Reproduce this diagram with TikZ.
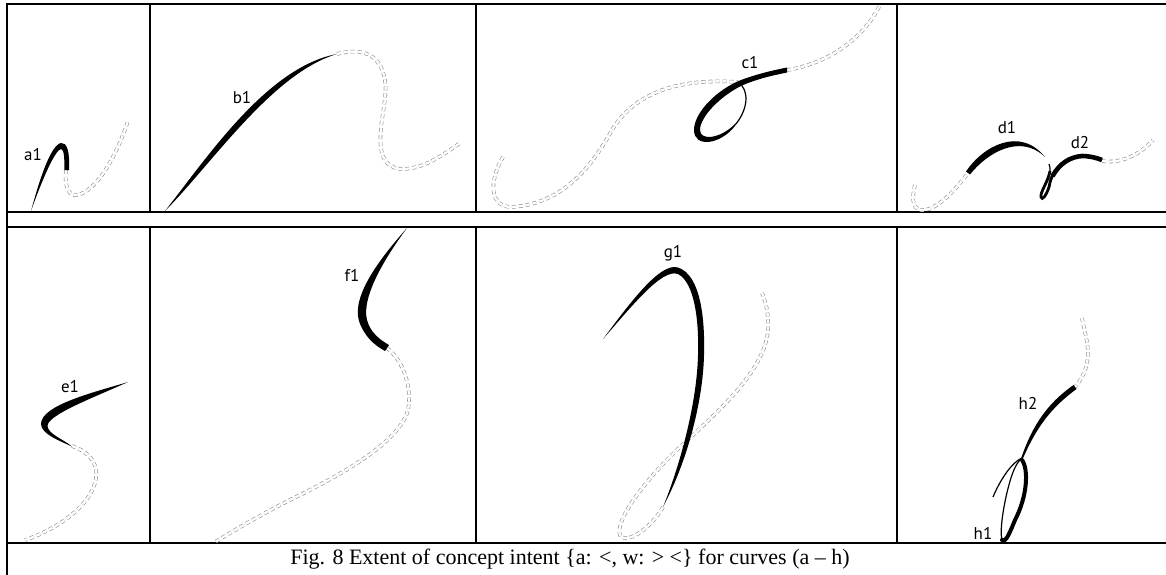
\documentclass[tikz,border=0pt]{standalone}
\usepackage{fontspec}
\setmainfont{Liberation Serif}
\newfontfamily\labelfont{PT Sans}
\begin{document}
\begin{tikzpicture}[x=0.5pt,y=-0.5pt,
  frame/.style={line width=1pt, draw=black, line cap=rect},
  ext/.style={draw=black!45, line width=0.3pt, double=white, double distance=1.2pt, dash pattern=on 2pt off 1.5pt},
  ink/.style={fill=black, draw=none},
  hair/.style={draw=black, line width=0.6pt},
  lab/.style={font=\labelfont\fontsize{8.5}{10}\selectfont, inner sep=0pt},
  captext/.style={font=\fontsize{11}{13}\selectfont, inner sep=0pt}]
\useasboundingbox (0,0) rectangle (1166,574);

% ---------- table frame ----------
\draw[frame] (7,4) -- (1166,4);
\draw[frame] (7,212) -- (1166,212);
\draw[frame] (7,227) -- (1166,227);
\draw[frame] (7,543) -- (1166,543);
\draw[frame] (7,4) -- (7,574);
\foreach \xx in {150,476,897}{
  \draw[frame] (\xx,4) -- (\xx,212);
  \draw[frame] (\xx,227) -- (\xx,543);
}

% ---------- panel a ----------
\draw[ext] (66,170) .. controls (64,188) and (70,197) .. (77,195) .. controls (95,192) and (115,160) .. (128,121);
\fill[ink] (31,211) .. controls (38,185) and (50,145) .. (61,143) .. controls (67,142) and (70,152) .. (69,170) -- (64.5,170) .. controls (64.5,158) and (64,149) .. (61,149) .. controls (55,150) and (42,180) .. (31,211) -- cycle;
\node[lab] (a1) at (33,155) {a1};

% ---------- panel b ----------
\draw[ext] (337,54) .. controls (360,48) and (380,52) .. (385,80) .. controls (388,100) and (378,125) .. (381,148) .. controls (384,170) and (400,172) .. (420,166) .. controls (435,161) and (450,150) .. (460,143);
\fill[ink] (165,211) .. controls (212.5,163.1) and (272.5,73.1) .. (337,54) .. controls (267.5,66.9) and (207.5,156.9) .. (165,211) -- cycle;
\node[lab] (b1) at (242,98) {b1};

% ---------- panel c ----------
\draw[ext] (503,157) .. controls (492,175) and (486,205) .. (510,207) .. controls (560,205) and (590,170) .. (612,130) .. controls (635,92) and (680,78) .. (738,82);
\draw[ext] (787,70) .. controls (820,65) and (860,45) .. (880,5);
\draw[hair] (738,82) .. controls (750,90) and (748,110) .. (735,125);
\fill[ink] (735,126) .. controls (720,145) and (694,148) .. (694,130) .. controls (694,113) and (716,90) .. (741,80) .. controls (760,73) and (775,70) .. (787,67.5)
  -- (787,72.5) .. controls (775,75) and (760,78) .. (743,85) .. controls (720,96) and (700,117) .. (700,130) .. controls (700,141) and (720,139) .. (735,124) -- cycle;
\node[lab] (c1) at (750,63) {c1};

% ---------- panel d ----------
\draw[ext] (915,185) .. controls (911,200) and (913,212) .. (925,210) .. controls (940,207) and (955,190) .. (968,173);
\draw[ext] (1102,161) .. controls (1120,164) and (1140,155) .. (1153,140);
\fill[ink] (966,171.5) .. controls (983,146) and (1020,126) .. (1045,157) .. controls (1020,133) and (987,153) .. (970,174.5) -- cycle;
\draw[hair] (1049,164) .. controls (1050,167) and (1050.5,169) .. (1050,172);
\draw[black, line width=1.4pt] (1050,171) .. controls (1048,182) and (1040,192) .. (1041,197) .. controls (1042,201) and (1046,196) .. (1049,187) .. controls (1050,182) and (1051,178) .. (1053,175);
\draw[black, line width=2.3pt] (1052.5,176) .. controls (1060,163) and (1070,157) .. (1082,156) .. controls (1090,156) and (1097,158) .. (1102,160);
\node[lab] (d1) at (1007,128) {d1};
\node[lab] (d2) at (1080,143) {d2};

% ---------- panel e ----------
\draw[ext] (72,446) .. controls (90,452) and (100,465) .. (95,483) .. controls (88,508) and (55,530) .. (25,540);
\fill[ink] (128,382) .. controls (95,392) and (41,405) .. (41,424) .. controls (41,434) and (60,441) .. (72,446.5)
  .. controls (63,439) and (48,434) .. (47.5,426) .. controls (47,415) and (95,397) .. (128,382) -- cycle;
\node[lab] (e1) at (70,387) {e1};

% ---------- panel f ----------
\draw[ext] (387,348) .. controls (405,362) and (412,390) .. (408,410) .. controls (400,440) and (350,470) .. (300,495) .. controls (265,512) and (235,530) .. (215,542);
\fill[ink] (407,228) .. controls (383,255) and (351,295) .. (359,321) .. controls (364,336) and (374,345) .. (385,351)
  -- (389,345) .. controls (380,340) and (370,332) .. (367,320) .. controls (361,296) and (387,255) .. (407,228) -- cycle;
\node[lab] (f1) at (352,275) {f1};

% ---------- panel g ----------
\draw[ext] (663,507) .. controls (650,530) and (625,545) .. (620,535) .. controls (615,522) and (640,485) .. (680,447) .. controls (720,410) and (765,370) .. (768,330) .. controls (769,312) and (765,300) .. (762,293);
\fill[ink] (603,339) .. controls (630,303) and (660,262) .. (678,267.5) .. controls (701,275) and (705,320) .. (704,355) .. controls (703,400) and (688,460) .. (663,507)
  .. controls (682,460) and (697,400) .. (698,355) .. controls (699,322) and (695,283) .. (678,274) .. controls (662,268) and (632,306) .. (603,339) -- cycle;
\node[lab] (g1) at (673,253) {g1};

% ---------- panel h ----------
\draw[ext] (1082,318) .. controls (1086,340) and (1096,362) .. (1075,387);
\fill[ink] (1076.5,389) .. controls (1052,407) and (1037,426) .. (1023,458.3) -- (1021.3,457.7) .. controls (1033,424) and (1048,403) .. (1073.5,385) -- cycle;
\draw[black, line width=2pt, line cap=round] (1022,460) .. controls (1029,470) and (1027,497) .. (1015,520) .. controls (1010,532) and (1006,543) .. (1002,540);
\draw[hair] (1002,540) .. controls (999,530) and (1005,495) .. (1012,475) .. controls (1015,466) and (1019,460) .. (1022,458);
\draw[hair] (1022,458) .. controls (1012,462) and (1000,480) .. (993,497);
\node[lab] (h2) at (1028,403) {h2};
\node[lab] (h1) at (983,533) {h1};

% ---------- caption ----------
\node[captext] (caption) at (570,559) {Fig. 8 Extent of concept intent \{a: <, w: > <\} for curves (a -- h)};
\end{tikzpicture}
\end{document}
